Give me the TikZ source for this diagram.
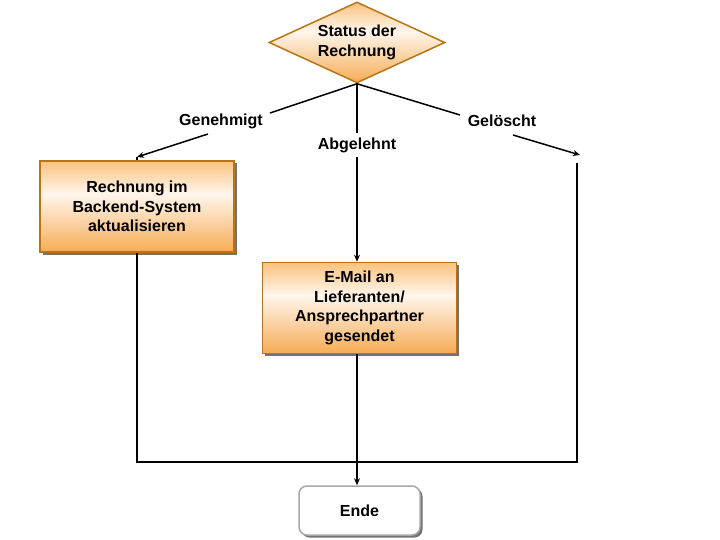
\documentclass[tikz,border=0pt]{standalone}
\usepackage{fontspec}
\setmainfont{Liberation Sans}
\usetikzlibrary{shapes.geometric,shadows,arrows.meta}
\definecolor{otop}{HTML}{FAC27E}
\definecolor{omid}{HTML}{FFF6EC}
\definecolor{obot}{HTML}{F6AC55}
\definecolor{oborder}{HTML}{B87418}
\definecolor{eborder}{HTML}{A8A8A8}
\pgfdeclareverticalshading{orangesh}{100bp}{color(0bp)=(obot); color(25bp)=(obot); color(57bp)=(omid); color(75bp)=(otop); color(100bp)=(otop)}
\tikzset{
  txt/.style={font=\bfseries\fontsize{16}{19.5}\selectfont, align=center},
  procbox/.style={txt, draw=oborder, line width=1.5pt, shading=orangesh,
    minimum width=194pt, minimum height=91pt, inner sep=0pt,
    drop shadow={shadow xshift=2.5pt, shadow yshift=-2.5pt, fill=black!55, opacity=1}},
  decbox/.style={txt, diamond, draw=oborder, line width=1.5pt, shading=orangesh,
    minimum width=176pt, minimum height=81pt, inner sep=0pt, shape aspect=2.17},
  endbox/.style={txt, draw=eborder, line width=1.5pt, fill=white, rounded corners=8pt,
    minimum width=121pt, minimum height=49pt, inner sep=0pt,
    drop shadow={shadow xshift=2.5pt, shadow yshift=-2.5pt, fill=black!55, opacity=1}},
  lbl/.style={txt},
  conn/.style={line width=1.5pt, black},
  arr/.style={conn, -{Stealth[length=7pt,width=6pt]}}
}
\begin{document}
\begin{tikzpicture}[x=1pt,y=-1pt]
\useasboundingbox (0,0) rectangle (720,540);
\node[decbox] (dia) at (357,42.5) {Status der\\Rechnung};
\node[procbox] (box1) at (137,206.5) {Rechnung im\\Backend-System\\aktualisieren};
\node[procbox] (box2) at (359.5,308) {E-Mail an\\Lieferanten/\\Ansprechpartner\\gesendet};
\node[endbox] (ende) at (359.5,510.5) {Ende};
\node[lbl] (gen) at (221,121) {Genehmigt};
\node[lbl] (abg) at (357,145) {Abgelehnt};
\node[lbl] (gel) at (502,121) {Gelöscht};
% coordinates
\coordinate (g1) at (270,113);
\coordinate (g2) at (208,134);
\coordinate (gt) at (137,157);
\coordinate (a1) at (357,133);
\coordinate (a2) at (357,157);
\coordinate (r1) at (460,115);
\coordinate (r2) at (513,135);
\coordinate (rt) at (580,155);
\coordinate (r3) at (577,163);
\coordinate (r4) at (577,462);
\coordinate (l4) at (137,462);
% connectors
\draw[conn] (dia.south) -- (g1);
\draw[arr] (g2) -- (gt);
\draw[conn] (gt) -- (box1.north);
\draw[conn] (dia.south) -- (a1);
\draw[arr] (a2) -- (a2 |- box2.north);
\draw[conn] (dia.south) -- (r1);
\draw[arr] (r2) -- (rt);
\draw[conn] (box1.south) -- (l4) -- (r4) -- (r3);
\draw[arr] (box2.south -| a2) -- (a2 |- ende.north);
\end{tikzpicture}
\end{document}
